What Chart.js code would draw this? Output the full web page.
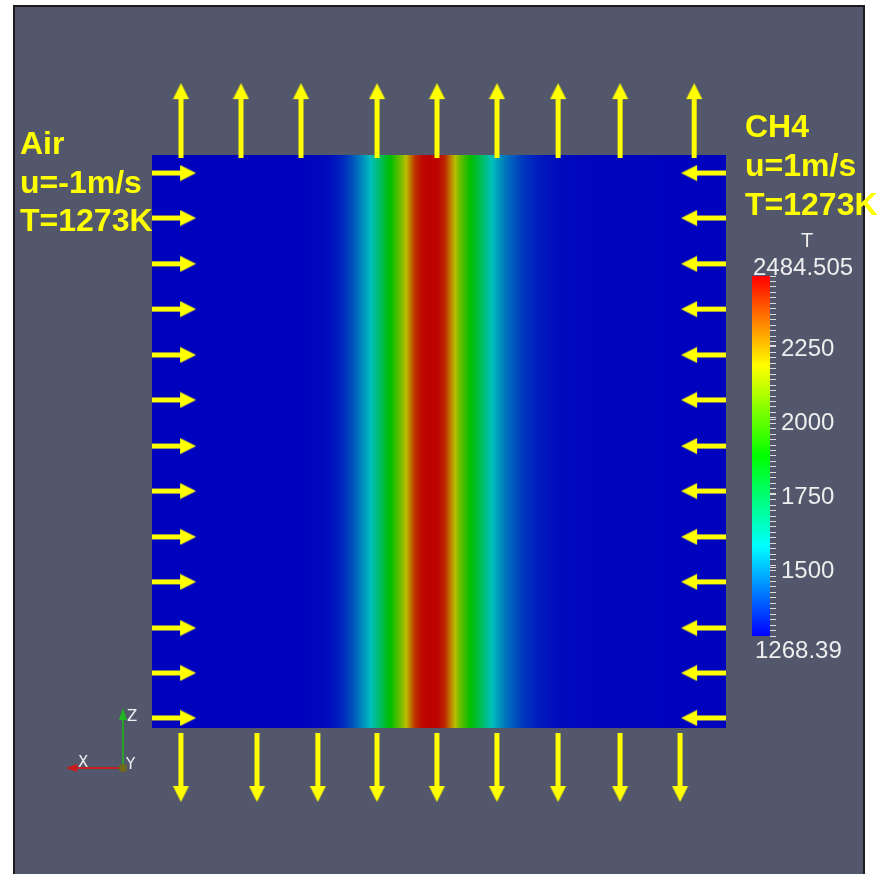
<!DOCTYPE html>
<html><head><meta charset="utf-8">
<script src="https://cdn.jsdelivr.net/npm/chart.js@4.4.1/dist/chart.umd.min.js"></script>
<style>
html,body{margin:0;padding:0;background:#fff;width:887px;height:874px;overflow:hidden;}
#frame{position:absolute;left:13px;top:5px;width:848px;height:880px;background:#52576b;border:2px solid #1c1c1c;}
#mainWrap{position:absolute;left:0;top:0;width:887px;height:874px;}
#cbarWrap{position:absolute;left:700px;top:200px;width:187px;height:480px;}
</style></head><body>
<div id="frame"></div>
<div id="mainWrap"><canvas id="main"></canvas></div>
<div id="cbarWrap"><canvas id="cbar"></canvas></div>
<script>
// ---- data (x in mm across the domain, T in K) ----
const fieldX = [-10, -4.84, -4.15, -3.80, -3.45, -3.10, -2.75, -2.40, -2.13, -1.88, -1.64, -1.36, -1.18, -1.01, -0.84, -0.59, -0.31, -0.03, 0.21, 0.38, 0.56, 0.73, 0.98, 1.25, 1.50, 1.78, 2.02, 2.30, 2.65, 3.00, 3.52, 4.22, 5.61, 10];
const fieldT = [1273, 1273, 1280, 1290, 1320, 1380, 1470, 1570, 1680, 1800, 1900, 2050, 2150, 2280, 2400, 2470, 2484, 2475, 2420, 2300, 2180, 2050, 1930, 1820, 1720, 1600, 1530, 1460, 1400, 1350, 1310, 1285, 1275, 1273];
const domainX = [-10, 10];
const domainY = [-10, 10];
const TMIN = 1268.39, TMAX = 2484.505;
const cbarMajorTicks = [1500, 1750, 2000, 2250];
const cbarMinorCount = 66;
const topArrowX = [-8.99, -6.90, -4.81, -2.16, -0.07, 2.02, 4.15, 6.31, 8.89];
const bottomArrowX = [-8.99, -6.34, -4.22, -2.16, -0.07, 2.02, 4.15, 6.31, 8.40];
const sideArrowY = [9.37, 7.80, 6.20, 4.62, 3.02, 1.45, -0.16, -1.73, -3.33, -4.90, -6.51, -8.08, -9.65];
const topArrowRowY = 11.20, bottomArrowRowY = -11.38;
const leftArrowColX = -9.23, rightArrowColX = 9.22;
const airLabel = ['Air', 'u=-1m/s', 'T=1273K'];
const ch4Label = ['CH4', 'u=1m/s', 'T=1273K'];

const FIELD_SHADE = 0.74;
const YELLOW = '#ffff00';

function cmapRGB(T, shade) {
  let f = (T - TMIN) / (TMAX - TMIN);
  f = Math.max(0, Math.min(1, f));
  const h = 240 * (1 - f) / 60;
  const i = Math.min(3, Math.floor(h));
  const ff = h - i;
  let r, g, b;
  if (i === 0) { r = 1; g = ff; b = 0; }
  else if (i === 1) { r = 1 - ff; g = 1; b = 0; }
  else if (i === 2) { r = 0; g = 1; b = ff; }
  else { r = 0; g = 1 - ff; b = 1; }
  if (h >= 4) { r = 0; g = 0; b = 1; }
  const s = shade * 255;
  return 'rgb(' + Math.round(r * s) + ',' + Math.round(g * s) + ',' + Math.round(b * s) + ')';
}

function makeArrow(len) {
  const c = document.createElement('canvas');
  c.width = 17; c.height = len;
  const g = c.getContext('2d');
  g.fillStyle = YELLOW;
  g.fillRect(6, 14, 5, len - 14);
  g.beginPath();
  g.moveTo(8.5, 0); g.lineTo(16.5, 16); g.lineTo(0.5, 16); g.closePath();
  g.fill();
  return c;
}
const arrowTop = makeArrow(75), arrowBottom = makeArrow(69), arrowLeft = makeArrow(44), arrowRight = makeArrow(45);

function arrowDataset(points, img, rot) {
  return {
    type: 'scatter', data: points, pointStyle: img, rotation: rot, order: 0,
    pointRadius: 45, pointBorderWidth: 0, pointBackgroundColor: 'rgba(0,0,0,0)',
    pointBorderColor: 'rgba(0,0,0,0)', clip: false, showLine: false
  };
}

const fieldDataset = {
  type: 'line', order: 10,
  data: [{ x: domainX[0], y: domainY[1] }, { x: domainX[1], y: domainY[1] }],
  borderWidth: 0, pointRadius: 0,
  fill: { value: domainY[0] },
  backgroundColor: (ctx) => {
    const chart = ctx.chart;
    if (!chart.chartArea) return cmapRGB(fieldT[0], FIELD_SHADE);
    const xs = chart.scales.x;
    const x0 = xs.getPixelForValue(fieldX[0]);
    const x1 = xs.getPixelForValue(fieldX[fieldX.length - 1]);
    const gr = chart.ctx.createLinearGradient(x0, 0, x1, 0);
    const sub = 8;
    for (let i = 0; i < fieldX.length - 1; i++) {
      for (let k = 0; k < sub; k++) {
        const t = k / sub;
        const xv = fieldX[i] + (fieldX[i + 1] - fieldX[i]) * t;
        const Tv = fieldT[i] + (fieldT[i + 1] - fieldT[i]) * t;
        gr.addColorStop(Math.max(0, Math.min(1, (xs.getPixelForValue(xv) - x0) / (x1 - x0))), cmapRGB(Tv, FIELD_SHADE));
      }
    }
    gr.addColorStop(1, cmapRGB(fieldT[fieldT.length - 1], FIELD_SHADE));
    return gr;
  }
};

const overlayPlugin = {
  id: 'overlay',
  afterDraw(chart) {
    const { ctx, chartArea: a } = chart;
    ctx.save();
    // labels
    ctx.fillStyle = YELLOW;
    ctx.font = 'bold 32px "Liberation Sans", Arial, sans-serif';
    ctx.textBaseline = 'alphabetic';
    ctx.textAlign = 'left';
    airLabel.forEach((s, i) => ctx.fillText(s, a.left - 132, a.top - 1 + i * 38.5));
    ch4Label.forEach((s, i) => ctx.fillText(s, a.right + 19, a.top - 18 + i * 38.8));
    // orientation triad
    const ox = a.left - 29, oy = a.bottom + 40;
    ctx.lineWidth = 2;
    ctx.strokeStyle = '#2aa02a';
    ctx.beginPath(); ctx.moveTo(ox, oy); ctx.lineTo(ox, oy - 48); ctx.stroke();
    ctx.fillStyle = '#22b522';
    ctx.beginPath(); ctx.moveTo(ox, oy - 60); ctx.lineTo(ox + 4, oy - 48); ctx.lineTo(ox - 4, oy - 48); ctx.closePath(); ctx.fill();
    ctx.strokeStyle = '#c42020';
    ctx.beginPath(); ctx.moveTo(ox, oy); ctx.lineTo(ox - 46, oy); ctx.stroke();
    ctx.fillStyle = '#cc1a1a';
    ctx.beginPath(); ctx.moveTo(ox - 57, oy); ctx.lineTo(ox - 46, oy - 4); ctx.lineTo(ox - 46, oy + 4); ctx.closePath(); ctx.fill();
    ctx.fillStyle = '#6f6a1c';
    ctx.beginPath(); ctx.arc(ox, oy, 4, 0, Math.PI * 2); ctx.fill();
    ctx.fillStyle = '#f2f2f2';
    ctx.font = '15px "DejaVu Sans", sans-serif';
    ctx.fillText('Z', ox + 4, oy - 47);
    ctx.fillText('X', ox - 45, oy - 1);
    ctx.fillText('Y', ox + 3, oy + 1);
    ctx.restore();
  }
};

new Chart(document.getElementById('main'), {
  data: {
    datasets: [
      fieldDataset,
      arrowDataset(topArrowX.map(x => ({ x, y: topArrowRowY })), arrowTop, 0),
      arrowDataset(bottomArrowX.map(x => ({ x, y: bottomArrowRowY })), arrowBottom, 180),
      arrowDataset(sideArrowY.map(y => ({ x: leftArrowColX, y })), arrowLeft, 90),
      arrowDataset(sideArrowY.map(y => ({ x: rightArrowColX, y })), arrowRight, 270)
    ]
  },
  options: {
    responsive: true, maintainAspectRatio: false, animation: false, devicePixelRatio: 1, events: [],
    layout: { padding: { left: 152, top: 155, right: 161, bottom: 146 } },
    plugins: { legend: { display: false }, tooltip: { enabled: false } },
    scales: {
      x: { type: 'linear', min: domainX[0], max: domainX[1], display: false },
      y: { type: 'linear', min: domainY[0], max: domainY[1], display: false }
    }
  },
  plugins: [overlayPlugin]
});

// ---- colour bar ----
const cbarTicks = [];
for (let i = 0; i <= cbarMinorCount; i++) cbarTicks.push(TMIN + (TMAX - TMIN) * i / cbarMinorCount);
cbarMajorTicks.forEach(v => cbarTicks.push(v));
cbarTicks.sort((p, q) => p - q);

const cbarLabelPlugin = {
  id: 'cbarLabels',
  afterDraw(chart) {
    const { ctx, chartArea: a } = chart;
    const ys = chart.scales.y;
    ctx.save();
    ctx.fillStyle = '#eeeeee';
    ctx.textAlign = 'left';
    ctx.textBaseline = 'alphabetic';
    ctx.font = '24px "Liberation Sans", Arial, sans-serif';
    ctx.fillText(TMAX.toFixed(3), a.left + 1, ys.getPixelForValue(TMAX) - 1);
    ctx.fillText(String(TMIN), a.left + 3, ys.getPixelForValue(TMIN) + 22);
    ctx.font = '20px "Liberation Sans", Arial, sans-serif';
    ctx.textAlign = 'center';
    ctx.fillText('T', a.left + 55, ys.getPixelForValue(TMAX) - 29);
    ctx.restore();
  }
};

new Chart(document.getElementById('cbar'), {
  type: 'bar',
  data: {
    labels: ['T'],
    datasets: [{
      data: [[TMIN, TMAX]], barPercentage: 1, categoryPercentage: 1, borderWidth: 0,
      backgroundColor: (ctx) => {
        const chart = ctx.chart;
        if (!chart.chartArea) return 'blue';
        const ys = chart.scales.y;
        const y0 = ys.getPixelForValue(TMIN), y1 = ys.getPixelForValue(TMAX);
        const gr = chart.ctx.createLinearGradient(0, y0, 0, y1);
        const n = 48;
        for (let i = 0; i <= n; i++) gr.addColorStop(i / n, cmapRGB(TMIN + (TMAX - TMIN) * i / n, 1));
        return gr;
      }
    }]
  },
  options: {
    responsive: true, maintainAspectRatio: false, animation: false, devicePixelRatio: 1, events: [],
    layout: { padding: { left: 52, top: 76, bottom: 44, right: 0 } },
    plugins: { legend: { display: false }, tooltip: { enabled: false } },
    scales: {
      x: { display: false },
      y: {
        position: 'right', min: TMIN, max: TMAX,
        afterFit(s) { s.width = 117; },
        afterBuildTicks(s) { s.ticks = cbarTicks.map(v => ({ value: v })); },
        border: { display: false },
        grid: {
          drawOnChartArea: true, tickLength: 6,
          color: (c) => (c.tick && cbarMajorTicks.includes(c.tick.value)) ? 'rgba(255,255,255,0.6)' : 'rgba(0,0,0,0)',
          tickColor: 'rgba(235,235,235,0.9)', lineWidth: 1
        },
        ticks: {
          autoSkip: false, padding: 5, labelOffset: 4, color: '#eeeeee',
          font: { size: 24, family: '"Liberation Sans", Arial, sans-serif' },
          callback: (v) => cbarMajorTicks.includes(v) ? String(v) : ''
        }
      }
    }
  },
  plugins: [cbarLabelPlugin]
});
</script>
</body></html>
